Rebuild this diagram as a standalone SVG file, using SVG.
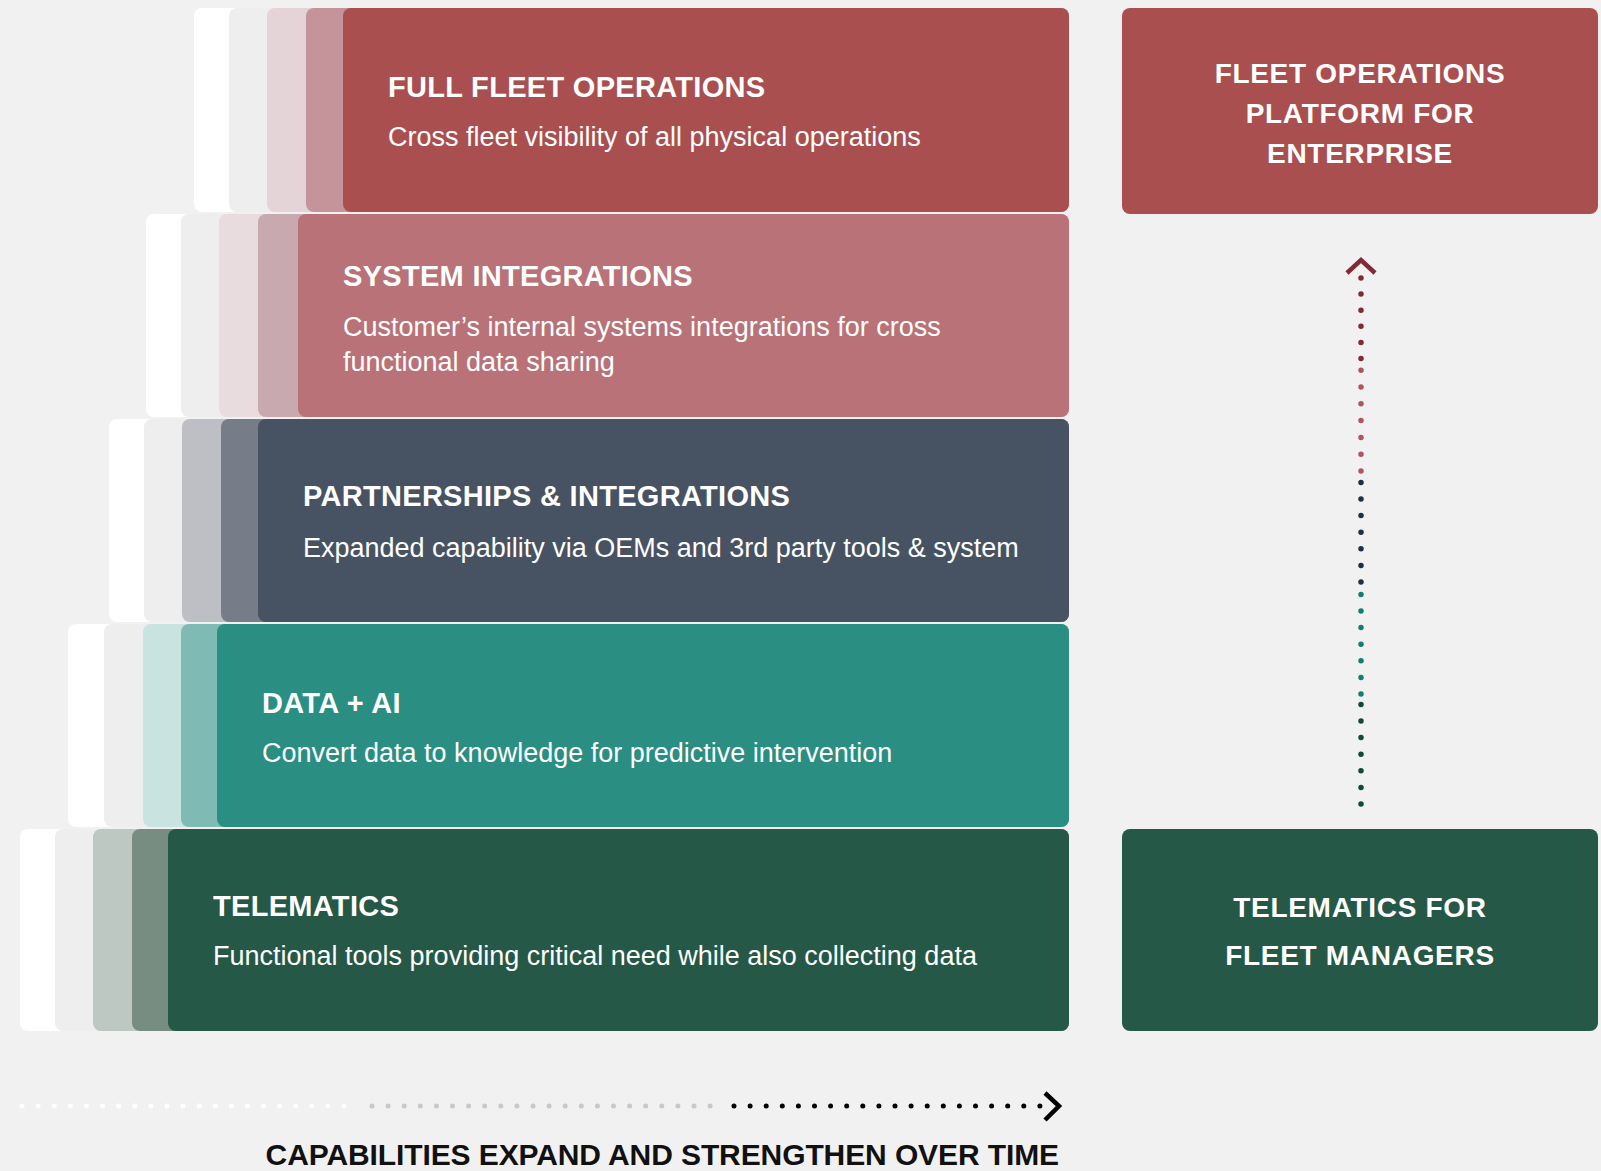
<svg xmlns="http://www.w3.org/2000/svg" width="1601" height="1171" viewBox="0 0 1601 1171">
  <style>
    .title { font-family: "Liberation Sans", Arial, sans-serif; font-weight: 700; font-size: 29px; letter-spacing: 0.3px; fill: #ffffff; }
    .sub { font-family: "Liberation Sans", Arial, sans-serif; font-size: 27px; fill: #ffffff; }
    .side { font-family: "Liberation Sans", Arial, sans-serif; font-weight: 700; font-size: 28px; letter-spacing: 0.7px; fill: #ffffff; text-anchor: middle; }
    .axis { font-family: "Liberation Sans", Arial, sans-serif; font-weight: 700; font-size: 30px; letter-spacing: -0.1px; fill: #111111; text-anchor: end; }
    .w { fill: #ffffff; }
    .g { fill: #eeeeee; }
    .dots { fill: none; stroke-linecap: round; }
  </style>

  <rect width="1601" height="1171" fill="#f1f1f1"/>

  <!-- Stacked capability tiers, each with fading tabs on the left -->
  <g id="tier-full-fleet">
    <rect class="w" x="194" y="8" width="875" height="204" rx="8"/>
    <rect class="g" x="229" y="8" width="840" height="204" rx="8"/>
    <rect x="267" y="8" width="802" height="204" rx="8" fill="#e4d4d7"/>
    <rect x="306" y="8" width="763" height="204" rx="8" fill="#c4949a"/>
    <rect x="343" y="8" width="726" height="204" rx="8" fill="#a94f50"/>
    <text class="title" x="388" y="97">FULL FLEET OPERATIONS</text>
    <text class="sub" x="388" y="146">Cross fleet visibility of all physical operations</text>
  </g>

  <g id="tier-system-integrations">
    <rect class="w" x="146" y="214" width="923" height="203" rx="8"/>
    <rect class="g" x="181" y="214" width="888" height="203" rx="8"/>
    <rect x="219" y="214" width="850" height="203" rx="8" fill="#e8dcdf"/>
    <rect x="258" y="214" width="811" height="203" rx="8" fill="#c8a9af"/>
    <rect x="298" y="214" width="771" height="203" rx="8" fill="#b87278"/>
    <text class="title" x="343" y="286">SYSTEM INTEGRATIONS</text>
    <text class="sub" x="343" y="336">Customer’s internal systems integrations for cross</text>
    <text class="sub" x="343" y="371">functional data sharing</text>
  </g>

  <g id="tier-partnerships">
    <rect class="w" x="109" y="419" width="960" height="203" rx="8"/>
    <rect class="g" x="144" y="419" width="925" height="203" rx="8"/>
    <rect x="182" y="419" width="887" height="203" rx="8" fill="#bdbfc4"/>
    <rect x="221" y="419" width="848" height="203" rx="8" fill="#767c88"/>
    <rect x="258" y="419" width="811" height="203" rx="8" fill="#475362"/>
    <text class="title" x="303" y="506">PARTNERSHIPS &amp; INTEGRATIONS</text>
    <text class="sub" x="303" y="557">Expanded capability via OEMs and 3rd party tools &amp; system</text>
  </g>

  <g id="tier-data-ai">
    <rect class="w" x="68" y="624" width="1001" height="203" rx="8"/>
    <rect class="g" x="104" y="624" width="965" height="203" rx="8"/>
    <rect x="143" y="624" width="926" height="203" rx="8" fill="#c9e3e0"/>
    <rect x="181" y="624" width="888" height="203" rx="8" fill="#7fbbb4"/>
    <rect x="217" y="624" width="852" height="203" rx="8" fill="#2a8e82"/>
    <text class="title" x="262" y="713">DATA + AI</text>
    <text class="sub" x="262" y="762">Convert data to knowledge for predictive intervention</text>
  </g>

  <g id="tier-telematics">
    <rect class="w" x="20" y="829" width="1049" height="202" rx="8"/>
    <rect class="g" x="55" y="829" width="1014" height="202" rx="8"/>
    <rect x="93" y="829" width="976" height="202" rx="8" fill="#bec8c3"/>
    <rect x="132" y="829" width="937" height="202" rx="8" fill="#788d82"/>
    <rect x="168" y="829" width="901" height="202" rx="8" fill="#255846"/>
    <text class="title" x="213" y="916">TELEMATICS</text>
    <text class="sub" x="213" y="965">Functional tools providing critical need while also collecting data</text>
  </g>

  <!-- Outcome boxes on the right -->
  <g id="outcome-enterprise">
    <rect x="1122" y="8" width="476" height="206" rx="8" fill="#a94f50"/>
    <text class="side" x="1360" y="83">FLEET OPERATIONS</text>
    <text class="side" x="1360" y="123">PLATFORM FOR</text>
    <text class="side" x="1360" y="163">ENTERPRISE</text>
  </g>

  <g id="outcome-fleet-managers">
    <rect x="1122" y="829" width="476" height="202" rx="8" fill="#255846"/>
    <text class="side" x="1360" y="917">TELEMATICS FOR</text>
    <text class="side" x="1360" y="965">FLEET MANAGERS</text>
  </g>

  <!-- Connectors: dotted progression arrows -->
  <g id="connectors">
    <!-- vertical: telematics up to enterprise platform -->
    <g class="dots" stroke-width="5.5">
      <line x1="1361" y1="804" x2="1361" y2="703.5" stroke="#0e4a35" stroke-dasharray="0 16.6"/>
      <line x1="1361" y1="694" x2="1361" y2="593.5" stroke="#0e8070" stroke-dasharray="0 16.6"/>
      <line x1="1361" y1="582" x2="1361" y2="481.5" stroke="#1e3045" stroke-dasharray="0 16.6"/>
      <line x1="1361" y1="471" x2="1361" y2="369.5" stroke="#b0555f" stroke-dasharray="0 16.8"/>
      <line x1="1361" y1="358.5" x2="1361" y2="277.5" stroke="#7f2a35" stroke-dasharray="0 16.1"/>
    </g>
    <polyline points="1347,273 1361,260 1375,273" fill="none" stroke="#7f2a35" stroke-width="4.5"/>

    <!-- horizontal: capabilities over time -->
    <g class="dots" stroke-width="5">
      <line x1="22" y1="1106" x2="354" y2="1106" stroke="#ffffff" stroke-dasharray="0 16.1"/>
      <line x1="372" y1="1106" x2="718" y2="1106" stroke="#c8c8c8" stroke-dasharray="0 16.1"/>
      <line x1="734" y1="1106" x2="1044" y2="1106" stroke="#000000" stroke-dasharray="0 16.1"/>
    </g>
    <polyline points="1045,1093 1059,1106 1045,1120" fill="none" stroke="#000000" stroke-width="4.5"/>
  </g>

  <text class="axis" x="1059" y="1165">CAPABILITIES EXPAND AND STRENGTHEN OVER TIME</text>
</svg>
